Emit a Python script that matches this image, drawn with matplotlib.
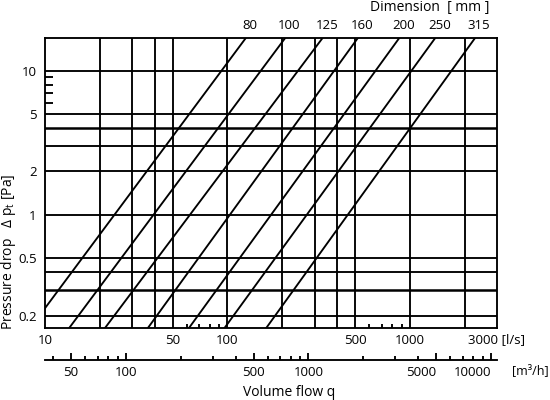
import numpy as np
import matplotlib
matplotlib.use("Agg")
import matplotlib.pyplot as plt
from matplotlib.ticker import FixedLocator, FixedFormatter, NullFormatter

plt.rcParams['font.family'] = ['Open Sans', 'DejaVu Sans']
plt.rcParams['mathtext.fontset'] = 'custom'
plt.rcParams['mathtext.rm'] = 'Open Sans'
plt.rcParams['mathtext.it'] = 'Open Sans:italic'

# duct dimensions [mm] and the flow [l/s] each line reads at 0.2 Pa and 10 Pa
dimensions = ['80', '100', '125', '160', '200', '250', '315']
flow_at_02pa = [9.3, 15.2, 23.9, 40.9, 68.7, 107.6, 182.0]
flow_at_10pa = [92.9, 152.6, 244.0, 385.0, 649.0, 1021.0, 1692.0]

grid_flow = [20, 30, 40, 50, 100, 200, 300, 400, 500, 1000, 2000]
grid_dp = [0.2, 0.3, 0.4, 0.5, 1, 2, 3, 4, 5, 10]
thick_dp = [0.3, 4]

flow_ticks = [10, 50, 100, 500, 1000, 3000]
flow_ticklabels = ['10', '50', '100', '500', '1000', '3000 [l/s]']
flow_minor = [60, 70, 80, 90, 600, 700, 800, 900]
dp_ticks = [0.2, 0.5, 1, 2, 5, 10]
dp_ticklabels = ['0.2', '0.5', '1', '2', '5', '10']
dp_minor = [6, 7, 8, 9]

m3h_ticks = [50, 100, 500, 1000, 5000, 10000]
m3h_minor = [40, 60, 70, 80, 90, 200, 300, 400, 600, 700, 800, 900,
             2000, 3000, 4000, 6000, 7000, 8000, 9000]

xmin, xmax = 10, 3000
ymin, ymax = 0.165, 16.8
lw = 1.35

fig = plt.figure(figsize=(5.5, 4), dpi=100)
left, right, top, bottom = 45 / 550, 497 / 550, 1 - 38 / 400, 1 - 328 / 400
ax = fig.add_axes([left, bottom, right - left, top - bottom])
ax.set_xscale('log')
ax.set_yscale('log')
ax.set_xlim(xmin, xmax)
ax.set_ylim(ymin, ymax)

for q in grid_flow:
    ax.axvline(q, color='black', lw=lw)
for p in grid_dp:
    ax.axhline(p, color='black', lw=1.8 if p in thick_dp else lw)

for dim, q02, q10 in zip(dimensions, flow_at_02pa, flow_at_10pa):
    ax.axline((q02, 0.2), (q10, 10), color='black', lw=lw)
    n = np.log(50) / np.log(q10 / q02)
    q_top = q10 * (ymax / 10) ** (1 / n)
    ax.annotate(dim, (q_top, ymax), xytext=(3, 9), textcoords='offset points',
                ha='center', va='center', fontsize=9.5, annotation_clip=False)

for s in ax.spines.values():
    s.set_linewidth(lw)

ax.xaxis.set_major_locator(FixedLocator(flow_ticks))
ax.xaxis.set_major_formatter(FixedFormatter(flow_ticklabels))
ax.xaxis.set_minor_locator(FixedLocator(flow_minor))
ax.xaxis.set_minor_formatter(NullFormatter())
ax.yaxis.set_major_locator(FixedLocator(dp_ticks))
ax.yaxis.set_major_formatter(FixedFormatter(dp_ticklabels))
ax.yaxis.set_minor_locator(FixedLocator(dp_minor))
ax.yaxis.set_minor_formatter(NullFormatter())
ax.tick_params(which='major', length=0, labelsize=9.5)
ax.tick_params(axis='x', which='major', pad=4)
ax.tick_params(axis='y', which='major', pad=6)
ax.tick_params(axis='x', which='minor', direction='in', length=3, width=lw)
ax.tick_params(axis='y', which='minor', direction='in', length=5.5, width=lw)

# second flow scale in m3/h
ax2 = fig.add_axes([left, 1 - 360 / 400, right - left, 0.01])
ax2.set_xscale('log')
ax2.set_xlim(xmin * 3.6, xmax * 3.6)
ax2.patch.set_visible(False)
for name in ['top', 'left', 'right']:
    ax2.spines[name].set_visible(False)
ax2.spines['bottom'].set_linewidth(lw)
ax2.set_yticks([])
ax2.xaxis.set_major_locator(FixedLocator(m3h_ticks))
ax2.xaxis.set_major_formatter(FixedFormatter([str(v) for v in m3h_ticks]))
ax2.xaxis.set_minor_locator(FixedLocator(m3h_minor))
ax2.xaxis.set_minor_formatter(NullFormatter())
ax2.tick_params(which='major', direction='in', length=5, width=lw, labelsize=9.5, pad=4)
ax2.tick_params(which='minor', direction='in', length=3, width=lw)
for lab in ax2.get_xticklabels()[-2:]:
    lab.set_ha('right')

fig.text(512 / 550, 1 - 371 / 400, '[m³/h]', ha='left', va='center', fontsize=9)
fig.text(289 / 550, 1 - 392 / 400, 'Volume flow q', ha='center', va='center', fontsize=10)
fig.text(430 / 550, 1 - 8 / 400, 'Dimension  [ mm ]', ha='center', va='center', fontsize=10)
fig.text(9 / 550, 1 - 252 / 400, 'Pressure drop   Δ p$_{\\mathrm{t}}$ [Pa]',
         rotation=90, ha='center', va='center', fontsize=10)

fig.savefig('out.png', dpi=100)
